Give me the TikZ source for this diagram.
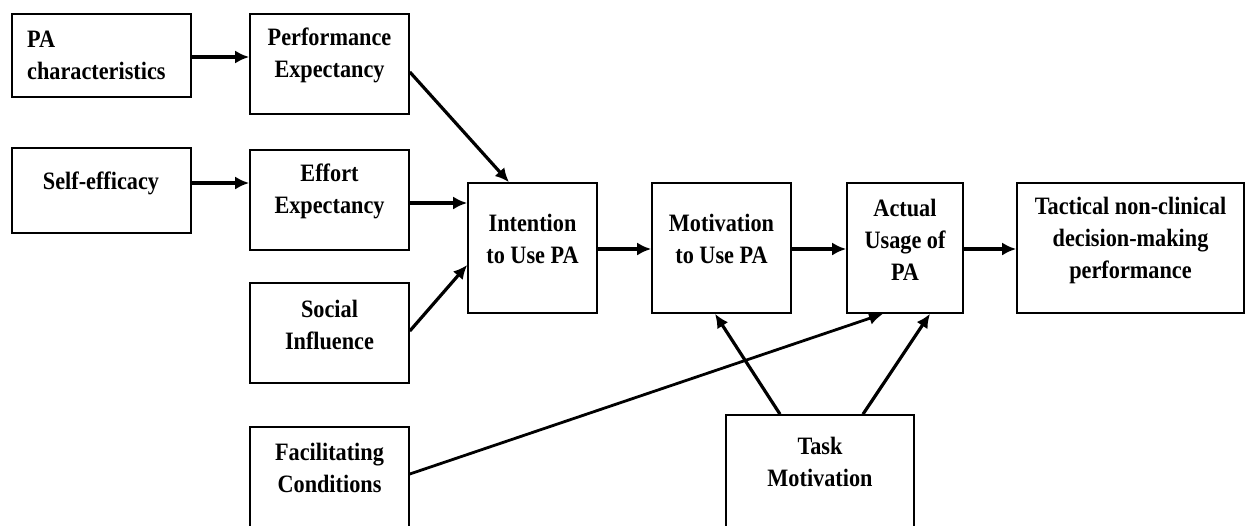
\documentclass[tikz,border=0pt]{standalone}
\usepackage{fontspec}
\setmainfont{Liberation Serif}
\newfontfamily\diagfont[FakeStretch=0.89]{Liberation Serif}
\usetikzlibrary{arrows.meta}
\begin{document}
\begin{tikzpicture}[x=1pt,y=-1pt,
  box/.style={draw, line width=1.6pt, inner sep=0pt},
  txt/.style={font=\diagfont\fontsize{25}{32}\selectfont\bfseries, align=center, inner sep=0pt},
  arr/.style={line width=3.2pt, -{Latex[length=14pt,width=13pt]}}]
\useasboundingbox (0,0) rectangle (1246,525);
\clip (0,0) rectangle (1246,525);
\fill[white] (0,0) rectangle (1246,525);
% boxes
\node[box, minimum width=179pt, minimum height=83pt] (pac) at (101.5,55.5) {};
\node[box, minimum width=159pt, minimum height=100pt] (pe) at (329.5,64) {};
\node[box, minimum width=179pt, minimum height=85pt] (se) at (101.5,190.5) {};
\node[box, minimum width=159pt, minimum height=100pt] (ee) at (329.5,200) {};
\node[box, minimum width=159pt, minimum height=100pt] (si) at (329.5,333) {};
\node[box, minimum width=159pt, minimum height=113pt] (fc) at (329.5,483.5) {};
\node[box, minimum width=129pt, minimum height=130pt] (int) at (532.5,248) {};
\node[box, minimum width=139pt, minimum height=130pt] (mot) at (721.5,248) {};
\node[box, minimum width=116pt, minimum height=130pt] (act) at (905,248) {};
\node[box, minimum width=227pt, minimum height=130pt] (tac) at (1130.5,248) {};
\node[box, minimum width=188pt, minimum height=125pt] (tm) at (820,477.5) {};
% texts
\node[txt, align=left, anchor=west] (pac-t) at (27,55.5) {PA\\characteristics};
\node[txt] (pe-t) at (329.5,55.5) {Performance\\Expectancy};
\node[txt] (se-t) at (101,183) {Self-efficacy};
\node[txt] (ee-t) at (329.5,191) {Effort\\Expectancy};
\node[txt] (si-t) at (329.5,324.5) {Social\\Influence};
\node[txt] (fc-t) at (329.5,467.5) {Facilitating\\Conditions};
\node[txt] (int-t) at (532.5,239) {Intention\\to Use PA};
\node[txt] (mot-t) at (721.5,239) {Motivation\\to Use PA};
\node[txt] (act-t) at (905,240) {Actual\\Usage of\\PA};
\node[txt] (tac-t) at (1130.5,240) {Tactical non-clinical\\decision-making\\performance};
\node[txt] (tm-t) at (820,461.5) {Task\\Motivation};
% connectors
\draw[arr] (pac.east |- 0,57) -- (pe.west |- 0,57);
\draw[arr] (se.east |- 0,183) -- (ee.west |- 0,183);
\draw[arr] (ee.east |- 0,203) -- (int.west |- 0,203);
\draw[arr] (pe.east |- 0,72) -- (int.north -| 509,0);
\draw[arr] (si.east |- 0,331) -- (int.west |- 0,265);
\draw[arr] (int.east |- 0,249) -- (mot.west |- 0,249);
\draw[arr] (mot.east |- 0,249) -- (act.west |- 0,249);
\draw[arr] (act.east |- 0,249) -- (tac.west |- 0,249);
\draw[arr, line width=2.8pt] (fc.east |- 0,474) -- (act.south -| 883,0);
\draw[arr] (tm.north -| 780,0) -- (mot.south -| 715,0);
\draw[arr] (tm.north -| 863,0) -- (act.south -| 930,0);
\end{tikzpicture}
\end{document}
